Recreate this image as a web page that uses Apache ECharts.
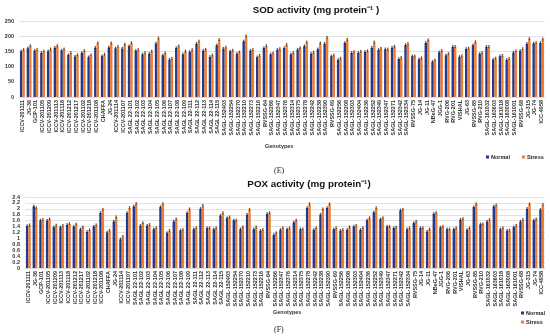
<!DOCTYPE html>
<html>
<head>
<meta charset="utf-8">
<script src="https://cdn.jsdelivr.net/npm/echarts@6/dist/echarts.min.js"></script>
<style>html,body{margin:0;padding:0;background:#fff}#c{width:550px;height:336px}</style>
</head>
<body>
<div id="c"></div>
<script>
var genotypes = ["ICCV-201111","JG-36","GCP-101","ICCV-201105","ICCV-201209","ICCV-201113","ICCV-201118","ICCV-201212","ICCV-201217","ICCV-201102","ICCV-201218","ICCV-201108","CHAFFA","JG-24","ICCV-201114","ICCV-201107","SAGL 22-101","SAGL 22-102","SAGL 22-103","SAGL 22-104","SAGL 22-105","SAGL 22-106","SAGL 22-107","SAGL 22-108","SAGL 22-109","SAGL 22-111","SAGL 22-112","SAGL 22-113","SAGL 22-114","SAGL 22-115","SAGL-152403","SAGL-152254","SAGL-152370","SAGL-152210","SAGL-152273","SAGL-152216","RVSSG-64","SAGL-152266","SAGL-152347","SAGL-152376","SAGL-152314","SAGL-152375","SAGL-152278","SAGL-152242","SAGL-152238","SAGL-152390","RVSSG-69","SAGL-152256","SAGL-152208","SAGL-152303","SAGL-152404","SAGL-152236","SAGL-152252","SAGL-152349","SAGL-152347","SAGL-152271","SAGL-152342","SAGL-152334","RVSSG-75","JG-14","JG-11","NBeG-47","JGG-1","RVG-206","RVG-201","VISHAL","JG-63","RVSSG-85","RVG-210","SAGL-161032","SAGL-163603","SAGL-161018","SAGL-163008","SAGL-161001","RVSSG-68","JG-315","JG-74","ICC-4958"];

var sodNormal = [150,160,152,145,150,162,153,138,133,145,131,162,134,163,160,159,167,152,140,142,176,137,123,161,140,148,175,152,132,170,159,150,142,183,152,131,161,140,155,161,140,156,167,142,157,175,134,122,178,145,145,148,162,155,157,162,125,171,134,124,178,116,147,137,165,132,158,170,142,165,123,134,122,146,151,175,176,178];
var sodStress = [155,168,155,150,157,168,157,145,138,152,138,177,140,177,165,173,178,155,145,150,193,144,126,167,150,155,183,156,137,188,163,153,147,200,155,136,168,144,158,172,145,161,180,146,177,195,137,127,189,148,149,151,180,159,157,166,129,175,134,128,187,121,152,142,165,135,160,181,145,165,127,136,126,151,158,191,178,190];

var poxNormal = [1.42,2.08,1.61,1.60,1.38,1.38,1.46,1.40,1.31,1.22,1.40,1.86,1.20,1.57,0.97,1.86,2.08,1.43,1.43,1.31,2.06,1.18,1.57,1.27,1.86,1.31,2.00,1.35,1.31,1.77,1.69,1.61,1.31,1.80,1.31,1.26,1.83,1.12,1.29,1.31,1.54,1.31,2.03,1.29,1.80,2.03,1.31,1.26,1.29,1.40,1.29,1.61,1.88,1.65,1.40,1.35,1.95,1.31,1.52,1.35,1.23,1.83,1.37,1.31,1.31,1.63,1.29,2.06,1.48,1.57,2.08,1.31,1.26,1.38,1.57,2.00,1.61,1.97];
var poxStress = [1.45,2.03,1.63,1.65,1.44,1.43,1.49,1.48,1.38,1.28,1.45,1.97,1.27,1.72,1.06,2.03,2.17,1.52,1.46,1.35,2.16,1.26,1.65,1.29,1.99,1.35,2.11,1.35,1.35,1.86,1.72,1.61,1.38,1.97,1.38,1.29,1.86,1.18,1.35,1.35,1.61,1.31,2.16,1.35,1.99,2.16,1.35,1.29,1.38,1.43,1.35,1.69,2.03,1.69,1.40,1.37,1.97,1.35,1.57,1.35,1.31,1.86,1.40,1.31,1.35,1.66,1.35,2.16,1.48,1.63,2.12,1.35,1.27,1.43,1.63,2.16,1.65,2.14];

var sodTicks = [0,50,100,150,200,250];
var poxTicks = [0,0.2,0.4,0.6,0.8,1,1.2,1.4,1.6,1.8,2,2.2,2.4];
var SOD_ERR = 4;
var POX_ERR = 0.04;

var BLUE = '#21398f';
var ORANGE = '#ed7d31';
var FONT = 'Liberation Sans, Arial, sans-serif';

function errRender(err, side) {
  return function (params, api) {
    var i = api.value(0), v = api.value(1);
    var band = api.size([1, 0])[0];
    var off = side * band * 0.18;
    var top = api.coord([i, v + err]);
    var bot = api.coord([i, v - err]);
    var x = top[0] + off;
    var cw = band * 0.1;
    return {type: 'group', silent: true, children: [
      {type: 'line', shape: {x1: x, y1: top[1], x2: x, y2: bot[1]}, style: {stroke: '#000', lineWidth: 0.6}},
      {type: 'line', shape: {x1: x - cw, y1: top[1], x2: x + cw, y2: top[1]}, style: {stroke: '#000', lineWidth: 0.6}}
    ]};
  };
}
function pairs(arr) { return arr.map(function (v, i) { return [i, v]; }); }

function xAxisFor(gi) {
  return {
    type: 'category', gridIndex: gi, data: genotypes,
    axisLine: {show: true, lineStyle: {color: '#d9d9d9', width: 0.8}},
    axisTick: {show: false},
    axisLabel: {interval: 0, rotate: 90, fontSize: 5.5, fontWeight: 'bold', color: '#333', fontFamily: FONT, margin: 3}
  };
}
function yAxisFor(gi, ticks, fmt) {
  return {
    type: 'value', gridIndex: gi, min: ticks[0], max: ticks[ticks.length - 1],
    interval: ticks[1] - ticks[0],
    axisLine: {show: false}, axisTick: {show: false},
    splitLine: {lineStyle: {color: '#d9d9d9', width: 0.8}},
    axisLabel: {fontSize: 5.5, fontWeight: 'bold', color: '#333', fontFamily: FONT, margin: 5, formatter: fmt}
  };
}

var legendText = {fontSize: 5.5, fontWeight: 'bold', color: '#222', fontFamily: FONT, padding: [0, 0, 0, -3]};

var chart = echarts.init(document.getElementById('c'), null, {renderer: 'canvas'});
chart.setOption({
  animation: false,
  backgroundColor: '#fff',
  grid: [
    {left: 19, right: 5, top: 21, height: 76},
    {left: 25, right: 5, top: 197, height: 71}
  ],
  xAxis: [xAxisFor(0), xAxisFor(1)],
  yAxis: [
    yAxisFor(0, sodTicks, function (v) { return String(v); }),
    yAxisFor(1, poxTicks, function (v) { return String(Math.round(v * 10) / 10); })
  ],
  legend: [
    {data: ['Normal', 'Stress'], orient: 'horizontal', left: 486, top: 154, width: 64, padding: 0, itemWidth: 3, itemHeight: 3, itemGap: 12,
     textStyle: legendText, icon: 'rect', selectedMode: false},
    {data: ['Normal', 'Stress'], orient: 'vertical', left: 521, top: 310, padding: 0, itemWidth: 3, itemHeight: 3, itemGap: 3,
     textStyle: legendText, icon: 'rect', selectedMode: false}
  ],
  graphic: [
    {type: 'text', x: 316, y: 10, style: {text: 'SOD activity (mg protein\u207B\u00B9 )', font: 'bold 9.8px ' + FONT, fill: '#111', textAlign: 'center', textVerticalAlign: 'middle'}},
    {type: 'text', x: 309, y: 184, style: {text: 'POX activity (mg protein\u207B\u00B9)', font: 'bold 9.8px ' + FONT, fill: '#111', textAlign: 'center', textVerticalAlign: 'middle'}},
    {type: 'text', x: 265, y: 146, style: {text: 'Genotypes', font: 'bold 5.5px ' + FONT, fill: '#333', textVerticalAlign: 'middle'}},
    {type: 'text', x: 273, y: 312, style: {text: 'Genotypes', font: 'bold 5.5px ' + FONT, fill: '#333', textVerticalAlign: 'middle'}},
    {type: 'text', x: 274, y: 171, style: {text: '(E)', font: '8px Liberation Serif, serif', fill: '#222', textVerticalAlign: 'middle'}},
    {type: 'text', x: 274, y: 330, style: {text: '(F)', font: '8px Liberation Serif, serif', fill: '#222', textVerticalAlign: 'middle'}}
  ],
  series: [
    {name: 'Normal', type: 'bar', xAxisIndex: 0, yAxisIndex: 0, data: sodNormal, barWidth: '36%', barGap: '0%', itemStyle: {color: BLUE}},
    {name: 'Stress', type: 'bar', xAxisIndex: 0, yAxisIndex: 0, data: sodStress, barWidth: '36%', barGap: '0%', itemStyle: {color: ORANGE}},
    {name: 'Normal', type: 'bar', xAxisIndex: 1, yAxisIndex: 1, data: poxNormal, barWidth: '36%', barGap: '0%', itemStyle: {color: BLUE}},
    {name: 'Stress', type: 'bar', xAxisIndex: 1, yAxisIndex: 1, data: poxStress, barWidth: '36%', barGap: '0%', itemStyle: {color: ORANGE}},
    {name: 'errSN', type: 'custom', xAxisIndex: 0, yAxisIndex: 0, data: pairs(sodNormal), renderItem: errRender(SOD_ERR, -1), z: 5, silent: true},
    {name: 'errSS', type: 'custom', xAxisIndex: 0, yAxisIndex: 0, data: pairs(sodStress), renderItem: errRender(SOD_ERR, 1), z: 5, silent: true},
    {name: 'errPN', type: 'custom', xAxisIndex: 1, yAxisIndex: 1, data: pairs(poxNormal), renderItem: errRender(POX_ERR, -1), z: 5, silent: true},
    {name: 'errPS', type: 'custom', xAxisIndex: 1, yAxisIndex: 1, data: pairs(poxStress), renderItem: errRender(POX_ERR, 1), z: 5, silent: true}
  ]
});
</script>
</body>
</html>
